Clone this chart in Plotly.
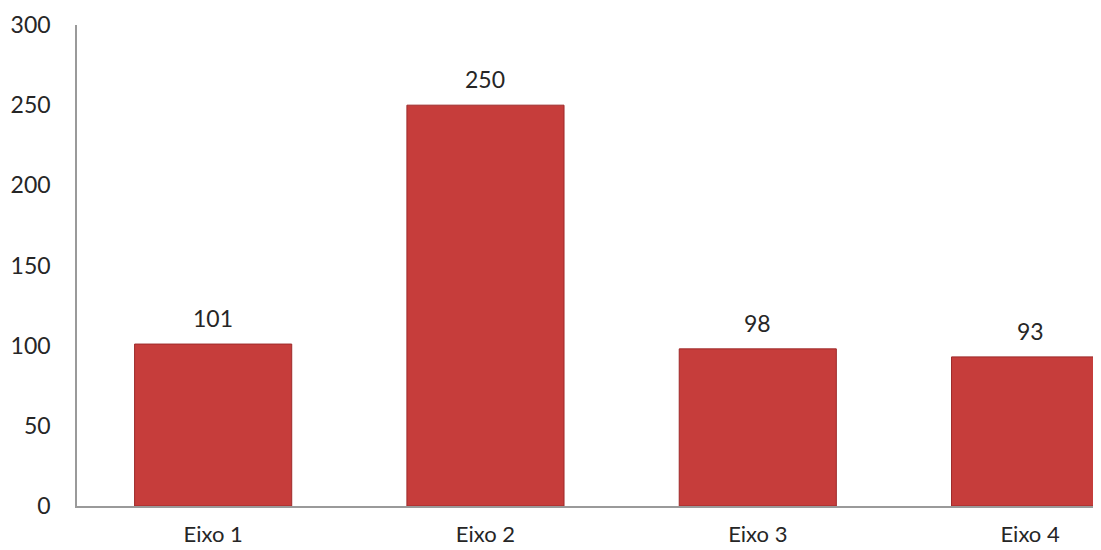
import plotly.graph_objects as go

categories = ["Eixo 1", "Eixo 2", "Eixo 3", "Eixo 4"]
values = [101, 250, 98, 93]
y_ticks = [0, 50, 100, 150, 200, 250, 300]

fig = go.Figure()
fig.add_trace(go.Bar(
    x=categories, y=values, width=0.577,
    marker=dict(color="#C63D3B", line=dict(color="#9E2A2A", width=1)),
    hoverinfo="skip",
))
for c, v in zip(categories, values):
    fig.add_annotation(x=c, y=v, text=str(v), showarrow=False,
                       yanchor="bottom", yshift=10,
                       font=dict(family="Lato", size=23, color="#262626"))

fig.update_layout(
    width=1085, height=534,
    margin=dict(l=69, r=0, t=17, b=36, autoexpand=False),
    paper_bgcolor="white", plot_bgcolor="white",
    showlegend=False,
    font=dict(family="Lato", size=23, color="#262626"),
)
fig.update_xaxes(range=[-0.5, 3.231], showline=True, linecolor="#9A9A9A", linewidth=1.5,
                 showgrid=False, ticks="", ticklabelstandoff=8, automargin=False,
                 tickfont=dict(family="Lato", size=22, color="#262626"))
fig.update_yaxes(range=[0, 300], tickvals=y_ticks, showline=True, linecolor="#9A9A9A",
                 linewidth=1.5, showgrid=False, zeroline=False, ticks="",
                 ticklabelstandoff=20, automargin=False,
                 tickfont=dict(family="Lato", size=23, color="#262626"))
fig.write_html("out.html")
